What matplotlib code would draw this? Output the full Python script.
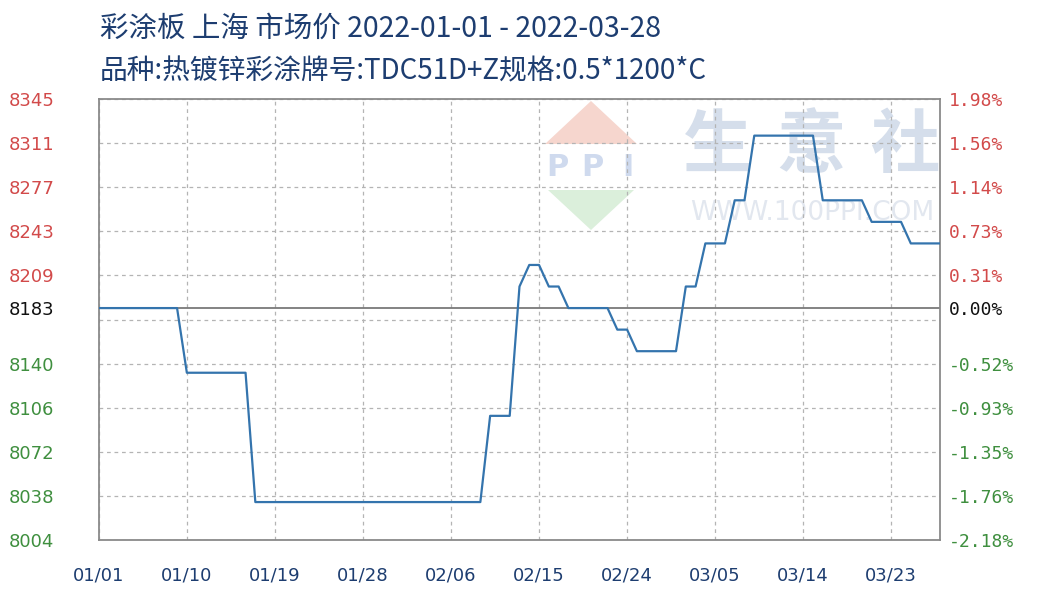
import matplotlib
matplotlib.use("Agg")
import matplotlib.pyplot as plt
import matplotlib.dates as mdates
from matplotlib.patches import Polygon
import numpy as np
import datetime as dt

plt.rcParams['font.family'] = ['DejaVu Sans']

# ---------------- data ----------------
title_line1 = "彩涂板 上海 市场价 2022-01-01 - 2022-03-28"
title_line2 = "品种:热镀锌彩涂牌号:TDC51D+Z规格:0.5*1200*C"

dates = ["2022-01-01", "2022-01-09", "2022-01-10", "2022-01-16", "2022-01-17",
         "2022-02-09", "2022-02-10", "2022-02-12", "2022-02-13", "2022-02-14",
         "2022-02-15", "2022-02-16", "2022-02-17", "2022-02-18", "2022-02-22",
         "2022-02-23", "2022-02-24", "2022-02-25", "2022-03-01", "2022-03-02",
         "2022-03-03", "2022-03-04", "2022-03-06", "2022-03-07", "2022-03-08",
         "2022-03-09", "2022-03-15", "2022-03-16", "2022-03-20", "2022-03-21",
         "2022-03-24", "2022-03-25", "2022-03-28"]
prices = [8183.33, 8183.33, 8133.33, 8133.33, 8033.33,
          8033.33, 8100.00, 8100.00, 8200.00, 8216.67,
          8216.67, 8200.00, 8200.00, 8183.33, 8183.33,
          8166.67, 8166.67, 8150.00, 8150.00, 8200.00,
          8200.00, 8233.33, 8233.33, 8266.67, 8266.67,
          8316.67, 8316.67, 8266.67, 8266.67, 8250.00,
          8250.00, 8233.33, 8233.33]

base_price = 8183.33
y_min, y_max = 8004, 8345
grid_values = [8004, 8038.1, 8072.2, 8106.3, 8140.4, 8174.5, 8208.6, 8242.7, 8276.8, 8310.9, 8345]
left_tick_values = [8004, 8038.1, 8072.2, 8106.3, 8140.4, 8183.33, 8208.6, 8242.7, 8276.8, 8310.9, 8345]
left_tick_labels = ["8004", "8038", "8072", "8106", "8140", "8183", "8209", "8243", "8277", "8311", "8345"]
right_tick_labels = ["-2.18%", "-1.76%", "-1.35%", "-0.93%", "-0.52%", "0.00%", "0.31%", "0.73%", "1.14%", "1.56%", "1.98%"]
x_tick_dates = ["2022-01-01", "2022-01-10", "2022-01-19", "2022-01-28", "2022-02-06",
                "2022-02-15", "2022-02-24", "2022-03-05", "2022-03-14", "2022-03-23"]
x_tick_labels = ["01/01", "01/10", "01/19", "01/28", "02/06", "02/15", "02/24", "03/05", "03/14", "03/23"]
x_start, x_end = "2022-01-01", "2022-03-28"

# ---------------- styling ----------------
RED = "#d24a4a"
GREEN = "#3f8f3f"
BLACK = "#111111"
NAVY = "#1d3d70"
LINE = "#3474ad"
GRID = "#b4b4b4"
FRAME = "#8a8a8a"

to_d = lambda s: dt.datetime.strptime(s, "%Y-%m-%d")
xd = [to_d(s) for s in dates]

fig = plt.figure(figsize=(10.4, 6.0), dpi=100, facecolor="white")
ax = fig.add_axes([0.095, 0.1, 0.809, 0.735])
ax.set_facecolor("none")

# watermark (figure coordinates, behind axes)
W, H = 1040.0, 600.0
def fc(x, y):
    return (x / W, 1 - y / H)
fig.patches.append(Polygon([fc(545, 144), fc(637, 144), fc(591, 101)], closed=True,
                           transform=fig.transFigure, facecolor="#f6d6ce", edgecolor="none", zorder=-5))
fig.patches.append(Polygon([fc(548, 190), fc(634, 190), fc(591, 230)], closed=True,
                           transform=fig.transFigure, facecolor="#dbefdb", edgecolor="none", zorder=-5))
for cx, ch in [(557, "P"), (592, "P"), (628, "I")]:
    fig.text(*fc(cx, 168), ch, ha="center", va="center", fontsize=22, fontweight="bold",
             color="#cfdaee", zorder=-4)
for cx, ch in [(718, "生"), (811, "意"), (906, "社")]:
    fig.text(*fc(cx, 147), ch, ha="center", va="center", fontsize=50, fontweight="bold",
             color="#d5deeb", family=["Noto Sans CJK SC"], zorder=-4)
fig.text(*fc(812, 213), "WWW.100PPI.COM", ha="center", va="center", fontsize=19,
         color="#e2e7ef", zorder=-4)

# grid
for gv in grid_values:
    ax.axhline(gv, color=GRID, lw=0.9, ls=(0, (3, 3)), zorder=1)
for td in x_tick_dates:
    ax.axvline(to_d(td), color=GRID, lw=0.9, ls=(0, (3, 3)), zorder=1)
ax.axhline(base_price, color="#7a7a7a", lw=1.3, zorder=2)

ax.plot(xd, prices, color=LINE, lw=1.6, zorder=3)

ax.set_xlim(to_d(x_start), to_d(x_end))
ax.set_ylim(y_min, y_max)

for sp in ax.spines.values():
    sp.set_color(FRAME)
    sp.set_linewidth(1.3)

ax.set_yticks(left_tick_values)
ax.set_yticklabels(left_tick_labels)
ax.tick_params(axis="y", length=0, pad=65, labelsize=13)
for lab, v in zip(ax.get_yticklabels(), left_tick_values):
    lab.set_horizontalalignment("left")
    lab.set_color(RED if v > base_price + 1 else (BLACK if abs(v - base_price) < 1 else GREEN))

ax.set_xticks([to_d(s) for s in x_tick_dates])
ax.set_xticklabels(x_tick_labels)
ax.tick_params(axis="x", length=0, pad=19, labelsize=13, labelcolor=NAVY)

ax2 = ax.twinx()
ax2.set_ylim(y_min, y_max)
ax2.set_yticks(left_tick_values)
ax2.set_yticklabels(right_tick_labels)
ax2.tick_params(axis="y", length=0, pad=6, labelsize=13)
for sp in ax2.spines.values():
    sp.set_visible(False)
for lab, v in zip(ax2.get_yticklabels(), left_tick_values):
    lab.set_family("DejaVu Sans Mono")
    lab.set_color(RED if v > base_price + 1 else (BLACK if abs(v - base_price) < 1 else GREEN))

fig.text(100 / W, 1 - 29 / H, title_line1, ha="left", va="center", fontsize=20.5,
         color=NAVY, family=["Noto Sans CJK SC", "DejaVu Sans"])
fig.text(100 / W, 1 - 71 / H, title_line2, ha="left", va="center", fontsize=20,
         color=NAVY, family=["Noto Sans CJK SC", "DejaVu Sans"])

fig.savefig("out.png", dpi=100, facecolor="white")
